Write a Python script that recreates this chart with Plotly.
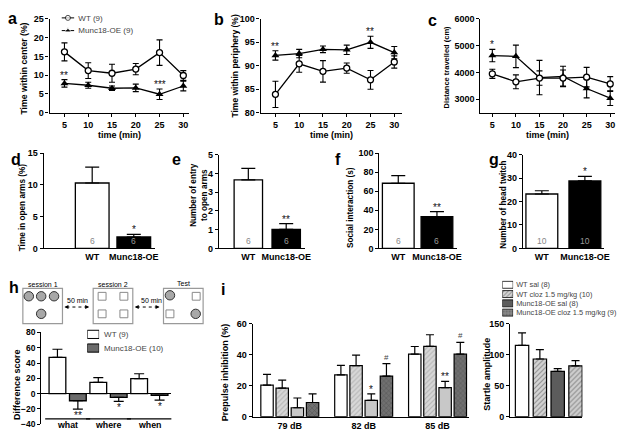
import plotly.graph_objects as go

W, H = 629, 431

# ---------------- data ----------------
time_min = [5, 10, 15, 20, 25, 30]
a_wt = [16.2, 11.2, 10.5, 11.6, 16.0, 9.9]
a_wt_sem = [2.4, 2.1, 2.4, 1.5, 3.4, 1.3]
a_oe = [7.8, 7.3, 6.5, 6.6, 4.9, 7.1]
a_oe_sem = [1.0, 0.8, 0.6, 1.0, 1.4, 1.3]
b_wt = [83.9, 90.4, 88.8, 89.5, 87.0, 90.8]
b_wt_sem = [2.8, 1.8, 2.3, 1.1, 2.0, 1.3]
b_oe = [92.2, 92.6, 93.5, 93.4, 95.0, 92.8]
b_oe_sem = [1.0, 0.9, 0.7, 1.0, 1.3, 1.3]
c_wt = [3950, 3650, 3790, 3790, 3825, 3570]
c_wt_sem = [170, 260, 270, 300, 365, 275]
c_oe = [4630, 4600, 3810, 3850, 3400, 3040]
c_oe_sem = [230, 420, 640, 380, 350, 275]
legend_a = ["WT (9)", "Munc18-OE (9)"]

groups = ["WT", "Munc18-OE"]
n_dfe = ["6", "6"]
n_g = ["10", "10"]
d_val = [10.3, 1.8]
d_sem = [2.5, 0.4]
e_val = [3.65, 1.02]
e_sem = [0.62, 0.3]
f_val = [68.4, 33.3]
f_sem = [8.0, 5.4]
g_val = [23.2, 28.8]
g_sem = [1.4, 1.9]

h_cats = ["what", "where", "when"]
h_legend = ["WT (9)", "Munc18-OE (10)"]
h_wt = [47.5, 14.8, 19.5]
h_wt_sem = [10.5, 6.0, 6.5]
h_oe = [-9.3, -5.0, -2.3]
h_oe_sem = [11.0, 5.2, 6.2]

i_cats = ["79 dB", "82 dB", "85 dB"]
i_legend = ["WT sal (8)", "WT cloz 1.5 mg/kg (10)", "Munc18-OE sal (8)",
            "Munc18-OE cloz 1.5 mg/kg (9)"]
ppi_mean = [[20.4, 27.0, 40.4],
            [18.5, 33.0, 45.5],
            [5.8, 10.5, 18.8],
            [9.2, 26.3, 40.4]]
ppi_sem = [[7.0, 6.2, 5.0],
           [5.2, 6.8, 7.5],
           [6.3, 4.2, 4.0],
           [5.5, 8.0, 7.6]]
startle_mean = [115, 93, 73, 82]
startle_sem = [20, 15, 4.5, 8.5]

# ---------------- helpers ----------------
FONT = "Liberation Sans, Arial, sans-serif"
TICK = 9
TITLE = 8.2


def dom_x(p0, p1):
    return [p0 / W, p1 / W]


def dom_y(top, bottom):
    return [1 - bottom / H, 1 - top / H]


def yaxis_style(**kw):
    d = dict(showline=True, linecolor="black", linewidth=1.2, ticks="outside",
             ticklen=3, tickwidth=1.2, tickcolor="black", showgrid=False,
             zeroline=False, tickfont=dict(size=TICK, family=FONT, color="black", weight="bold"))
    d.update(kw)
    return d


def xaxis_style(**kw):
    d = dict(showline=True, linecolor="black", linewidth=1.2, ticks="", showgrid=False,
             zeroline=False, tickfont=dict(size=TICK, family=FONT, color="black", weight="bold"))
    d.update(kw)
    return d


fig = go.Figure()
layout = {}
annotations = []
shapes = []


def ann(text, x, y, xref="paper", yref="paper", size=9, weight="bold", angle=0, color="black",
        xanchor="center", yanchor="middle", yshift=0, xshift=0):
    annotations.append(dict(text=text, x=x, y=y, xref=xref, yref=yref, showarrow=False,
                            textangle=angle, xanchor=xanchor, yanchor=yanchor, yshift=yshift,
                            xshift=xshift,
                            font=dict(family=FONT, size=size, color=color, weight=weight)))


def px_ann(text, px, py, **kw):
    ann(text, px / W, 1 - py / H, **kw)


def star(text, x, y, xref, yref, below=False):
    ann(text, x, y, xref=xref, yref=yref, size=10, weight="normal", color="#111",
        yanchor="top" if below else "bottom", yshift=1 if below else -3)


# ---------------- panels a-c (line plots) ----------------
line_panels = [
    ("", (42, 183), (1.875, 31.25), [0, 25], [0, 5, 10, 15, 20, 25], a_wt, a_wt_sem, a_oe, a_oe_sem),
    ("2", (255, 398), (1.875, 31.67), [80, 100], [80, 85, 90, 95, 100], b_wt, b_wt_sem, b_oe, b_oe_sem),
    ("3", (477, 613), (2.48, 31.05), [2500, 6000], [3000, 4000, 5000, 6000], c_wt, c_wt_sem, c_oe, c_oe_sem),
]
for suf, (x0, x1), xr, yr, yt, wt, wts, oe, oes in line_panels:
    xa = "x" + suf
    ya = "y" + suf
    fig.add_trace(go.Scatter(x=time_min, y=oe, xaxis=xa, yaxis=ya, mode="lines+markers",
                             line=dict(color="black", width=1.3),
                             marker=dict(symbol="triangle-up", size=7, color="black"),
                             error_y=dict(type="data", array=oes, color="black", thickness=1.1, width=3),
                             showlegend=False))
    fig.add_trace(go.Scatter(x=time_min, y=wt, xaxis=xa, yaxis=ya, mode="lines+markers",
                             line=dict(color="black", width=1.3),
                             marker=dict(symbol="circle", size=6, color="white",
                                         line=dict(color="black", width=1.3)),
                             error_y=dict(type="data", array=wts, color="black", thickness=1.1, width=3),
                             showlegend=False))
    layout["xaxis" + suf] = xaxis_style(domain=dom_x(x0, x1), range=list(xr), anchor=ya,
                                        tickvals=time_min, ticks="outside", ticklen=3.5, tickwidth=1.2,
                                        tickcolor="black")
    layout["yaxis" + suf] = yaxis_style(domain=dom_y(6, 102), range=yr, anchor=xa, tickvals=yt)

# significance marks on line plots (above Munc18-OE error bars)
for i_pt, txt in [(0, "**"), (4, "***")]:
    star(txt, time_min[i_pt], a_oe[i_pt] + a_oe_sem[i_pt], "x", "y")
for i_pt in [0, 4]:
    star("**", time_min[i_pt], b_oe[i_pt] + b_oe_sem[i_pt], "x2", "y2")
star("*", time_min[0], c_oe[0] + c_oe_sem[0], "x3", "y3")

# legend a (small line swatches on a helper axis)
fig.add_trace(go.Scatter(x=[0, 0.5, 1], y=[0, 0, 0], xaxis="x11", yaxis="y11", mode="lines+markers",
                         line=dict(color="black", width=1), cliponaxis=False,
                         marker=dict(symbol="circle", size=[0, 5, 0], color="white",
                                     line=dict(color="black", width=1)), showlegend=False))
fig.add_trace(go.Scatter(x=[0, 0.5, 1], y=[1, 1, 1], xaxis="x11", yaxis="y11", mode="lines+markers",
                         line=dict(color="black", width=1), cliponaxis=False,
                         marker=dict(symbol="triangle-up", size=[0, 6, 0], color="black"),
                         showlegend=False))
layout["xaxis11"] = dict(domain=dom_x(54, 67), range=[0, 1], visible=False, anchor="y11")
layout["yaxis11"] = dict(domain=dom_y(0, 24), range=[1.46, -0.385], anchor="x11", side="right",
                         tickvals=[0, 1], ticktext=legend_a, showline=False, showgrid=False,
                         zeroline=False, ticks="", ticklabelstandoff=3,
                         tickfont=dict(size=8, family=FONT, color="#444"))

# axis titles a-c
px_ann("Time within center (%)", 16, 57, angle=-90, size=TITLE + 0.5)
px_ann("Time within periphery (%)", 229, 54, angle=-90, size=TITLE + 0.3)
px_ann("Distance travelled (cm)", 443, 55, angle=-90, size=7.5)
for xp in (113, 327, 545):
    px_ann("time (min)", xp, 125, size=9)

# ---------------- panels d-g (bars) ----------------
bar_panels = [
    ("4", (36, 148), (-1.167, 1.5), 0.81, (143.5, 241), [0, 15], [0, 5, 10, 15], d_val, d_sem, n_dfe, "*"),
    ("5", (213, 300), (-0.775, 1.5), 0.75, (145, 241), [0, 5], [0, 1, 2, 3, 4, 5], e_val, e_sem, n_dfe, "**"),
    ("6", (375, 453), (-0.487, 1.51), 0.82, (143.5, 241), [0, 100], [0, 20, 40, 60, 80, 100], f_val, f_sem, n_dfe, "**"),
    ("7", (520, 602), (-0.437, 1.45), 0.74, (145, 241), [0, 40], [0, 10, 20, 30, 40], g_val, g_sem, n_g, "*"),
]
for suf, (x0, x1), xr, bw, (t, b), yr, yt, vals, sems, ns, st in bar_panels:
    xa, ya = "x" + suf, "y" + suf
    fig.add_trace(go.Bar(x=groups, y=vals, xaxis=xa, yaxis=ya, width=bw,
                         marker=dict(color=["white", "black"], line=dict(color="black", width=1.3)),
                         error_y=dict(type="data", symmetric=False, array=sems, arrayminus=[0, 0],
                                      color="black", thickness=1.2, width=7),
                         showlegend=False))
    layout["xaxis" + suf] = xaxis_style(domain=dom_x(x0, x1), range=list(xr), anchor=ya,
                                        type="category", categoryarray=groups)
    layout["yaxis" + suf] = yaxis_style(domain=dom_y(t, b), range=yr, anchor=xa, tickvals=yt)
    for g_name, n_txt, col in zip(groups, ns, ["#888", "#999"]):
        ann(n_txt, g_name, 0, xref=xa, yref=ya, size=8.5, weight="normal", color=col,
            yanchor="bottom", yshift=0)
    star(st, groups[1], vals[1] + sems[1], xa, ya)

px_ann("Time in open arms (%)", 15, 199, angle=-90, size=TITLE)
px_ann("Number of entry<br>to open arms", 193, 186, angle=-90, size=TITLE)
px_ann("Social interaction (s)", 346, 199, angle=-90, size=TITLE)
px_ann("Number of head twitch", 500, 196, angle=-90, size=TITLE)

# ---------------- panel h ----------------
h_top, h_bot = 327, 421
h_unit_w = 0.41
fig.add_trace(go.Bar(x=h_cats, y=h_wt, xaxis="x8", yaxis="y8", width=h_unit_w, offset=-0.455,
                     marker=dict(color="white", line=dict(color="black", width=1.3)),
                     error_y=dict(type="data", symmetric=False, array=h_wt_sem, arrayminus=[0, 0, 0],
                                  color="black", thickness=1.2, width=5),
                     showlegend=False))
fig.add_trace(go.Bar(x=h_cats, y=h_oe, xaxis="x8", yaxis="y8", width=h_unit_w, offset=0.045,
                     marker=dict(color="#6b6b6b", line=dict(color="black", width=1.3)),
                     error_y=dict(type="data", symmetric=False, array=[0, 0, 0], arrayminus=h_oe_sem,
                                  color="black", thickness=1.2, width=5),
                     showlegend=False))
layout["xaxis8"] = xaxis_style(domain=dom_x(33, 165), range=[-0.66, 2.54], anchor="y8",
                               type="category", categoryarray=h_cats, showline=False,
                               showticklabels=False)
layout["yaxis8"] = yaxis_style(domain=dom_y(h_top, h_bot), range=[-40, 80], anchor="x8",
                               tickvals=[-40, -20, 0, 20, 40, 60, 80], zeroline=True,
                               zerolinecolor="black", zerolinewidth=1.2, ticklen=2.5,
                               tickfont=dict(size=8.5, family=FONT, color="black", weight="bold"))
for k, c in enumerate(["**", "*", "*"]):
    star(c, k + 0.25, h_oe[k] - h_oe_sem[k], "x8", "y8", below=True)
for k, c in enumerate(h_cats):
    ann(c, k, 1 - 422 / H, xref="x8", yref="paper", size=8.8)
    shapes.append(dict(type="line", xref="x8", yref="paper", x0=k - 0.55, x1=k + 0.55,
                       y0=1 - 415.5 / H, y1=1 - 415.5 / H, line=dict(color="black", width=1.2)))
px_ann("Difference score", 9, 380, angle=-90, size=9)

# legend h
fig.add_trace(go.Bar(x=[1, 1], y=h_legend, orientation="h", xaxis="x12", yaxis="y12", width=0.6,
                     marker=dict(color=["white", "#6b6b6b"], line=dict(color="black", width=1)),
                     showlegend=False))
layout["xaxis12"] = dict(domain=dom_x(80, 92), range=[0, 1], visible=False, anchor="y12")
layout["yaxis12"] = dict(domain=dom_y(322, 350), anchor="x12", side="right", type="category",
                         categoryarray=h_legend, autorange="reversed", showline=False,
                         showgrid=False, zeroline=False, ticks="", ticklabelstandoff=4,
                         tickmode="linear", dtick=1,
                         tickfont=dict(size=8, family=FONT, color="#444"))

# schematic in h
box_col = "#9a9a9a"
for bx0 in (15, 86, 157):
    shapes.append(dict(type="rect", xref="paper", yref="paper", x0=bx0 / W, x1=(bx0 + 40) / W,
                       y0=1 - 318 / H, y1=1 - 282 / H, line=dict(color=box_col, width=1.2)))


def circ(cx, cy, r=4.8):
    shapes.append(dict(type="circle", xref="paper", yref="paper", x0=(cx - r) / W, x1=(cx + r) / W,
                       y0=1 - (cy + r) / H, y1=1 - (cy - r) / H, fillcolor="#a8a8a8",
                       line=dict(color="#333", width=1)))


def sq(cx, cy, s=4):
    shapes.append(dict(type="rect", xref="paper", yref="paper", x0=(cx - s) / W, x1=(cx + s) / W,
                       y0=1 - (cy + s) / H, y1=1 - (cy - s) / H, fillcolor="white",
                       line=dict(color="#8a8a8a", width=1)))


for cx, cy in [(21, 290), (33.5, 290), (46.5, 290), (33.5, 308)]:
    circ(cx, cy)
for cx, cy in [(95, 290), (117, 290), (95, 308), (117, 308)]:
    sq(cx, cy)
circ(163.5, 289)
circ(189.5, 308)
sq(190, 290)
sq(163.5, 308)
for ax0, ax1, tx in [(57, 82, 64), (128, 153, 139)]:
    shapes.append(dict(type="line", xref="paper", yref="paper", x0=(ax0 + 2) / W, x1=(ax1 - 2) / W,
                       y0=1 - 301 / H, y1=1 - 301 / H, line=dict(color="black", width=1, dash="dot")))
    for tip, d in [(ax0, 5), (ax1, -5)]:
        annotations.append(dict(x=tip / W, y=1 - 301 / H, xref="paper", yref="paper", text="",
                                showarrow=True, ax=d, ay=0, arrowhead=2, arrowsize=0.8,
                                arrowwidth=1, arrowcolor="black"))
    px_ann("50 min", tx + 6, 294, size=7, weight="normal")
px_ann("session 1", 35, 277.5, size=7, weight="normal")
px_ann("session 2", 106.5, 277.5, size=7, weight="normal")
px_ann("Test", 177, 276.5, size=7, weight="normal")

# ---------------- panel i ----------------
ppi_style = [
    dict(color="white", pattern=dict(shape="")),
    dict(color="#d4d4d4", pattern=dict(shape="/", fgcolor="#8c8c8c", bgcolor="#d8d8d8", size=3.5, solidity=0.3)),
    dict(color="#c8c8c8", pattern=dict(shape="")),
    dict(color="#6a6a6a", pattern=dict(shape="x", fgcolor="#3a3a3a", bgcolor="#707070", size=3.5, solidity=0.3)),
]
pitch = 0.2055
bw_i = 0.168
for k in range(4):
    stl = ppi_style[k]
    fig.add_trace(go.Bar(x=i_cats, y=ppi_mean[k], xaxis="x9", yaxis="y9", width=bw_i,
                         offset=(k - 1.5) * pitch - bw_i / 2,
                         marker=dict(color=stl["color"], pattern=stl["pattern"],
                                     line=dict(color="black", width=1.2)),
                         error_y=dict(type="data", symmetric=False, array=ppi_sem[k],
                                      arrayminus=[0, 0, 0], color="black", thickness=1.2, width=4),
                         showlegend=False))
layout["xaxis9"] = xaxis_style(domain=dom_x(247, 465), range=[-0.503, 2.42], anchor="y9",
                               type="category", categoryarray=i_cats)
layout["yaxis9"] = yaxis_style(domain=dom_y(318.3, 413.3), range=[0, 60], anchor="x9",
                               tickvals=[0, 20, 40, 60])
for cat_i, grp, txt in [(1, 2, "*"), (1, 3, "#"), (2, 2, "**"), (2, 3, "#")]:
    xpos = cat_i + (grp - 1.5) * pitch
    if txt == "#":
        ann(txt, xpos, ppi_mean[grp][cat_i] + ppi_sem[grp][cat_i], xref="x9", yref="y9",
            size=8, weight="normal", color="#444", yanchor="bottom", yshift=0)
    else:
        star(txt, xpos, ppi_mean[grp][cat_i] + ppi_sem[grp][cat_i], "x9", "y9")
px_ann("Prepulse inhibition (%)", 220, 368, angle=-90, size=9)

# startle amplitude
startle_colors = ["white", "#d4d4d4", "#5c5c5c", "#cfcfcf"]
startle_patterns = ["", "/", "", "/"]
fig.add_trace(go.Bar(x=i_legend, y=startle_mean, xaxis="x10", yaxis="y10", width=0.75,
                     marker=dict(color=startle_colors,
                                 pattern=dict(shape=startle_patterns, fgcolor="#8c8c8c",
                                              bgcolor=startle_colors, size=3.5, solidity=0.3),
                                 line=dict(color="black", width=1.2)),
                     error_y=dict(type="data", symmetric=False, array=startle_sem,
                                  arrayminus=[0, 0, 0, 0], color="black", thickness=1.2, width=4),
                     showlegend=False))
layout["xaxis10"] = xaxis_style(domain=dom_x(507, 580), range=[-0.667, 3.39], anchor="y10",
                                type="category", categoryarray=i_legend, showticklabels=False)
layout["yaxis10"] = yaxis_style(domain=dom_y(318, 413.3), range=[0, 150], anchor="x10",
                                tickvals=[0, 50, 100, 150])
px_ann("Startle amplitude", 484, 370, angle=-90, size=9)

# legend i
leg_colors = ["white", "#d4d4d4", "#5c5c5c", "#8a8a8a"]
leg_patterns = ["", "/", "", "."]
fig.add_trace(go.Bar(x=[1, 1, 1, 1], y=i_legend, orientation="h", xaxis="x13", yaxis="y13",
                     width=0.75,
                     marker=dict(color=leg_colors,
                                 pattern=dict(shape=leg_patterns, fgcolor="#555", bgcolor=leg_colors,
                                              size=3, solidity=0.3),
                                 line=dict(color="black", width=0.8)),
                     showlegend=False))
layout["xaxis13"] = dict(domain=dom_x(499, 510), range=[0, 1], visible=False, anchor="y13")
layout["yaxis13"] = dict(domain=dom_y(273.5, 311.5), anchor="x13", side="right", type="category",
                         categoryarray=i_legend, autorange="reversed", showline=False,
                         showgrid=False, zeroline=False, ticks="", ticklabelstandoff=2,
                         tickmode="array", tickvals=i_legend, ticktext=i_legend,
                         tickfont=dict(size=7.4, family=FONT, color="#444"))

# panel letters
for letter, px, py in [("a", 5, 6), ("b", 213, 7), ("c", 429, 8), ("d", 8, 150), ("e", 170, 150),
                       ("f", 333, 150), ("g", 491, 150), ("h", 6, 281), ("i", 217, 283)]:
    px_ann(letter, px, py, size=16)

fig.update_layout(**layout)
fig.update_layout(width=W, height=H, margin=dict(l=0, r=0, t=0, b=0), plot_bgcolor="white",
                  paper_bgcolor="white", annotations=annotations, shapes=shapes,
                  showlegend=False, font=dict(family=FONT))
fig.write_html("out.html")
